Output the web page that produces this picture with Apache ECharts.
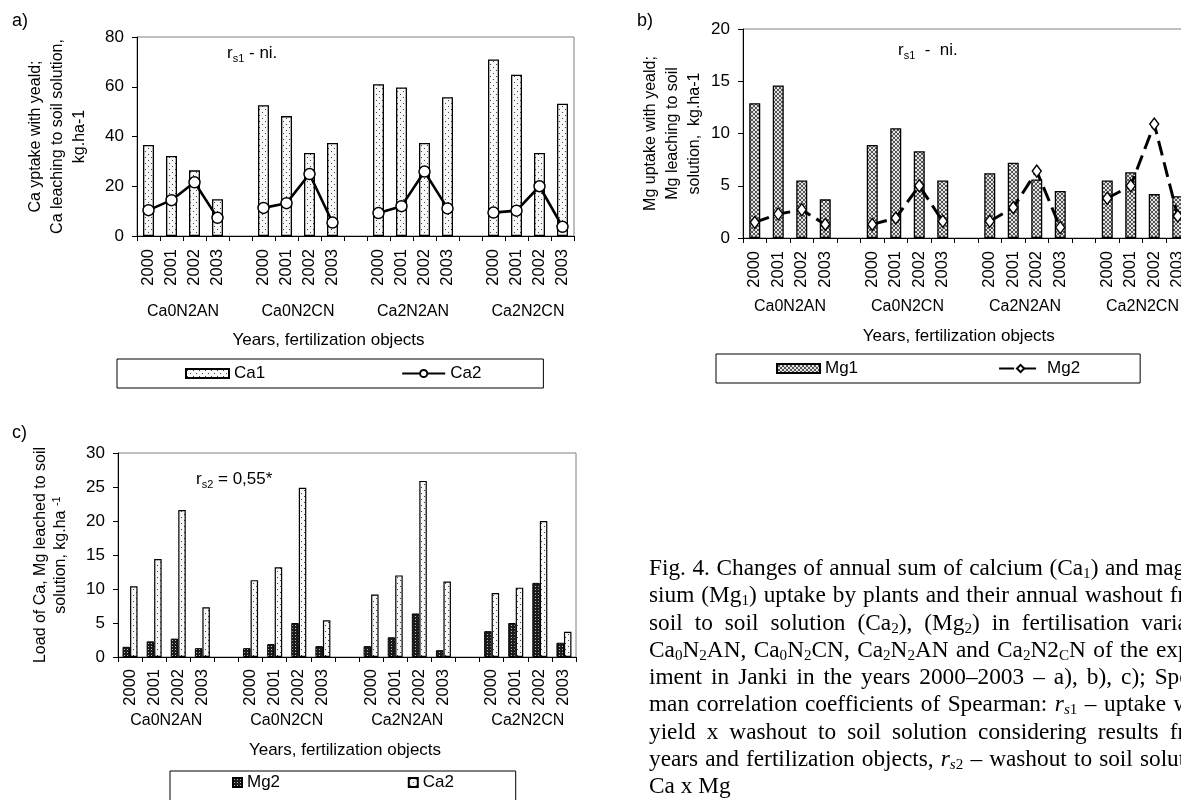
<!DOCTYPE html>
<html><head><meta charset="utf-8">
<script src="https://cdn.jsdelivr.net/npm/echarts@6/dist/echarts.min.js"></script>
<style>
html,body{margin:0;padding:0;background:#fff;overflow:hidden;width:1181px;height:800px}
#chart{position:absolute;left:0;top:0;width:1181px;height:800px}
#caption{position:absolute;left:649px;top:554px;font-family:"Liberation Serif","Times New Roman",serif;font-size:23.3px;color:#000}
#caption div{width:566px;height:27.3px;line-height:27.3px;white-space:nowrap;text-align:justify;text-align-last:justify}
#caption div.last{text-align:left;text-align-last:left}
#caption sub{font-size:0.65em;line-height:0;vertical-align:-0.22em}
</style></head>
<body>
<div id="chart"></div>
<div id="caption">
<div>Fig. 4. Changes of annual sum of calcium (Ca<sub>1</sub>) and magne-</div>
<div>sium (Mg<sub>1</sub>) uptake by plants and their annual washout from</div>
<div>soil to soil solution (Ca<sub>2</sub>), (Mg<sub>2</sub>) in fertilisation variants</div>
<div>Ca<sub>0</sub>N<sub>2</sub>AN, Ca<sub>0</sub>N<sub>2</sub>CN, Ca<sub>2</sub>N<sub>2</sub>AN and Ca<sub>2</sub>N2<sub>C</sub>N of the exper-</div>
<div>iment in Janki in the years 2000–2003 – a), b), c); Spear-</div>
<div>man correlation coefficients of Spearman: <i>r</i><sub><i>s</i>1</sub> – uptake with</div>
<div>yield x washout to soil solution considering results from</div>
<div>years and fertilization objects, <i>r</i><sub><i>s</i>2</sub> – washout to soil solution</div>
<div class="last">Ca x Mg</div>
</div>
<script>
// ---------- data ----------
const groups = ['Ca0N2AN', 'Ca0N2CN', 'Ca2N2AN', 'Ca2N2CN'];
const years = ['2000', '2001', '2002', '2003'];
const ca1 = [36.6, 32.2, 26.4, 14.8, 52.6, 48.2, 33.4, 37.4, 61.0, 59.7, 37.4, 55.8, 71.0, 64.8, 33.4, 53.2];
const ca2 = [10.4, 14.4, 21.6, 7.3, 11.3, 13.2, 24.9, 5.4, 9.2, 12.0, 25.9, 11.1, 9.4, 10.2, 20.0, 3.7];
const mg1 = [12.9, 14.6, 5.5, 3.7, 8.9, 10.5, 8.3, 5.5, 6.2, 7.2, 5.6, 4.5, 5.5, 6.3, 4.2, 4.0];
const mg2 = [1.5, 2.3, 2.7, 1.3, 1.3, 1.9, 5.0, 1.6, 1.6, 2.9, 6.4, 1.0, 3.8, 5.0, 10.9, 2.1];

// ---------- helpers ----------
const FONT = '"Liberation Sans", Arial, sans-serif';
function expand(arr, gapVal) {
  const out = [];
  groups.forEach((g, i) => {
    for (let j = 0; j < years.length; j++) out.push(arr[i * years.length + j]);
    if (i < groups.length - 1) out.push(gapVal);
  });
  return out;
}
const cats = expand(groups.flatMap(() => years), '');
const slotCount = cats.length;
const groupCenters = groups.map((g, i) => i * (years.length + 1) + years.length / 2);

function pattern(size, bg, pts, fg) {
  const c = document.createElement('canvas');
  c.width = c.height = size;
  const x = c.getContext('2d');
  x.fillStyle = bg; x.fillRect(0, 0, size, size);
  x.fillStyle = fg;
  pts.forEach(p => x.fillRect(p[0], p[1], 1, 1));
  return { image: c, repeat: 'repeat' };
}
const dotFill = pattern(6, '#f8f8f8', [[1, 1], [4, 4]], '#444');
const hatchFill = pattern(4, '#e4e4e4', [[0, 0], [1, 1], [2, 2], [3, 3], [3, 0], [2, 1], [1, 2], [0, 3]], '#555');
const darkFill = pattern(3, '#1c1c1c', [[1, 1]], '#bbb');

function yearAxis(gi, margin) {
  return {
    type: 'category', gridIndex: gi, data: cats, boundaryGap: true, position: 'bottom',
    axisLine: { show: true, lineStyle: { color: '#000', width: 1 } },
    axisTick: { show: true, interval: 0, length: 5, lineStyle: { color: '#000' } },
    axisLabel: { interval: 0, rotate: 90, margin, fontSize: 16.5, color: '#000', fontFamily: FONT },
    splitLine: { show: false }
  };
}
function groupAxis(gi, margin, nameGap, padRight) {
  return {
    type: 'value', gridIndex: gi, min: 0, max: slotCount, position: 'bottom',
    axisLine: { show: false }, axisTick: { show: false }, splitLine: { show: false },
    axisLabel: {
      customValues: groupCenters,
      formatter: v => groups[Math.round((v - years.length / 2) / (years.length + 1))],
      margin, fontSize: 16, color: '#000', fontFamily: FONT
    },
    name: 'Years, fertilization objects', nameLocation: 'middle', nameGap,
    nameTextStyle: { fontSize: 17, color: '#000', fontFamily: FONT, padding: [0, padRight, 0, 0] }
  };
}
function yAxis(gi, max, interval, name, nameGap, lineHeight, rich) {
  return {
    type: 'value', gridIndex: gi, min: 0, max, interval,
    axisLine: { show: true, lineStyle: { color: '#000' } },
    axisTick: { show: true, length: 5, lineStyle: { color: '#000' } },
    axisLabel: { margin: 13, fontSize: 17, color: '#000', fontFamily: FONT },
    splitLine: { show: false },
    name, nameLocation: 'middle', nameRotate: 90, nameGap,
    nameTextStyle: { fontSize: 16, lineHeight, color: '#000', fontFamily: FONT, rich }
  };
}
const legendText = { fontSize: 17, color: '#000', fontFamily: FONT };
const richR = (sub, rest) => ({
  text: '{r|r}{s|' + sub + '}{t|' + rest + '}',
  rich: {
    r: { fontSize: 17, lineHeight: 22, fontFamily: FONT, fill: '#000' },
    s: { fontSize: 11, lineHeight: 10, verticalAlign: 'bottom', fontFamily: FONT, fill: '#000' },
    t: { fontSize: 17, lineHeight: 22, fontFamily: FONT, fill: '#000' }
  }
});
const gridBase = { show: true, borderColor: '#808080', borderWidth: 1, containLabel: false, outerBoundsMode: 'none' };

const chart = echarts.init(document.getElementById('chart'), null, { renderer: 'canvas', width: 1181, height: 800 });
chart.setOption({
  animation: false,
  backgroundColor: '#fff',
  grid: [
    Object.assign({ left: 137, top: 37, width: 437, height: 199 }, gridBase),
    Object.assign({ left: 743, top: 29, width: 446.5, height: 209 }, gridBase),
    Object.assign({ left: 118, top: 453, width: 458, height: 204 }, gridBase)
  ],
  xAxis: [
    yearAxis(0, 13), groupAxis(0, 68, 96, 54),
    yearAxis(1, 13), groupAxis(1, 61, 90, 15),
    yearAxis(2, 12), groupAxis(2, 56, 85, 4)
  ],
  yAxis: [
    yAxis(0, 80, 20, 'Ca yptake with yeald;\nCa leaching to soil solution,\nkg.ha-1', 46, 22),
    yAxis(1, 20, 5, 'Mg uptake with yeald;\nMg leaching to soil\nsolution,  kg.ha-1', 37, 22),
    yAxis(2, 30, 5, 'Load of Ca, Mg leached to soil\nsolution, kg.ha {sup|-1}', 47, 20,
      { sup: { fontSize: 11, lineHeight: 12, verticalAlign: 'top', fontFamily: FONT, color: '#000' } })
  ],
  legend: [
    {
      data: [{ name: 'Ca1', icon: 'rect' }, 'Ca2'], left: 117, top: 359, orient: 'horizontal',
      padding: [6, 62, 6, 68], itemGap: 136, itemWidth: 43, itemHeight: 9,
      borderColor: '#000', borderWidth: 1, textStyle: legendText, selectedMode: false
    },
    {
      data: [{ name: 'Mg1', icon: 'rect' }, 'Mg2'], left: 716, top: 354, orient: 'horizontal',
      padding: [6, 60, 6, 60], itemGap: 140, itemWidth: 43, itemHeight: 9,
      borderColor: '#000', borderWidth: 1, textStyle: legendText, selectedMode: false
    },
    {
      data: [{ name: 'Mg2 ', icon: 'rect' }, { name: 'Ca2 ', icon: 'rect' }], left: 170, top: 771, orient: 'horizontal',
      padding: [3, 57, 40, 62], itemGap: 123, itemWidth: 9, itemHeight: 9,
      borderColor: '#000', borderWidth: 1, textStyle: legendText, selectedMode: false
    }
  ],
  graphic: [
    { type: 'text', left: 12, top: 12, style: { text: 'a)', fontSize: 18, fill: '#000', fontFamily: FONT } },
    { type: 'text', left: 637, top: 12, style: { text: 'b)', fontSize: 18, fill: '#000', fontFamily: FONT } },
    { type: 'text', left: 12, top: 424, style: { text: 'c)', fontSize: 18, fill: '#000', fontFamily: FONT } },
    { type: 'text', left: 227, top: 45, style: richR('s1', ' - ni.') },
    { type: 'text', left: 898, top: 42, style: richR('s1', '  -  ni.') },
    { type: 'text', left: 196, top: 471, style: richR('s2', ' = 0,55*') }
  ],
  series: [
    {
      type: 'bar', name: 'Ca1', xAxisIndex: 0, yAxisIndex: 0, data: expand(ca1, null), barWidth: 11,
      itemStyle: { color: dotFill, borderColor: '#000', borderWidth: 1.3 }, emphasis: { disabled: true }
    },
    {
      type: 'line', name: 'Ca2', xAxisIndex: 0, yAxisIndex: 0, data: expand(ca2, null), connectNulls: false,
      symbol: 'circle', symbolSize: 11, z: 5,
      lineStyle: { color: '#000', width: 2.6 },
      itemStyle: { color: '#fff', borderColor: '#000', borderWidth: 1.5 }, emphasis: { disabled: true }
    },
    {
      type: 'bar', name: 'Mg1', xAxisIndex: 2, yAxisIndex: 1, data: expand(mg1, null), barWidth: 11,
      itemStyle: { color: hatchFill, borderColor: '#000', borderWidth: 1.3 }, emphasis: { disabled: true }
    },
    {
      type: 'line', name: 'Mg2', xAxisIndex: 2, yAxisIndex: 1, data: expand(mg2, null), connectNulls: false,
      symbol: 'diamond', symbolSize: [9, 12], z: 5,
      lineStyle: { color: '#000', width: 3, type: [15, 7] },
      itemStyle: { color: '#fff', borderColor: '#000', borderWidth: 1.4 }, emphasis: { disabled: true }
    },
    {
      type: 'bar', name: 'Mg2 ', xAxisIndex: 4, yAxisIndex: 2, data: expand(mg2, null), barWidth: 7.5, barGap: '0%',
      itemStyle: { color: darkFill, borderColor: '#000', borderWidth: 1 }, emphasis: { disabled: true }
    },
    {
      type: 'bar', name: 'Ca2 ', xAxisIndex: 4, yAxisIndex: 2, data: expand(ca2, null), barWidth: 7.5, barGap: '0%',
      itemStyle: { color: dotFill, borderColor: '#000', borderWidth: 1.2 }, emphasis: { disabled: true }
    }
  ]
});
</script>
</body></html>
